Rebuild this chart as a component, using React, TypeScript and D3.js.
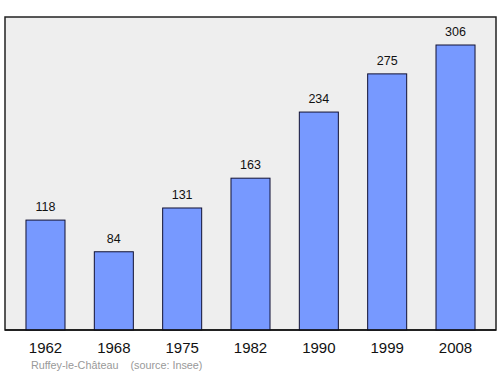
import React from "react";
import * as d3 from "d3";

const years = ["1962", "1968", "1975", "1982", "1990", "1999", "2008"];
const population = [118, 84, 131, 163, 234, 275, 306];
const sourceLabel = "Ruffey-le-Château    (source: Insee)";

const W = 500;
const H = 374;
const left = 5;
const right = 496;
const top = 17;
const bottom = 330;

export default function App() {
  const x = d3
    .scaleBand<string>()
    .domain(years)
    .range([left, right])
    .paddingInner(0.429)
    .paddingOuter(0.307);
  const y = d3.scaleLinear().domain([0, 306]).range([bottom, 45]);
  const font = "'Liberation Sans', Arial, sans-serif";
  return (
    <svg
      width={W}
      height={H}
      style={{ position: "absolute", left: 0, top: 0 }}
      fontFamily={font}
    >
      <rect x={0} y={0} width={W} height={H} fill="#fff" />
      <rect
        x={left}
        y={top}
        width={right - left}
        height={bottom - top}
        fill="#eeeeee"
        stroke="#222"
        strokeWidth={1.5}
      />
      {years.map((yr, i) => {
        const v = population[i];
        const bx = x(yr)!;
        return (
          <g key={yr}>
            <rect
              x={bx}
              y={y(v)}
              width={x.bandwidth()}
              height={bottom - y(v)}
              fill="#7799ff"
              stroke="#111133"
              strokeWidth={1}
            />
            <text
              x={bx + x.bandwidth() / 2}
              y={y(v) - 9}
              textAnchor="middle"
              fontSize={12.5}
              fill="#111"
            >
              {v}
            </text>
            <text
              x={bx + x.bandwidth() / 2}
              y={353}
              textAnchor="middle"
              fontSize={15}
              fill="#111"
            >
              {yr}
            </text>
          </g>
        );
      })}
      <line x1={left} x2={right} y1={bottom} y2={bottom} stroke="#111" strokeWidth={1.5} />
      <text x={31} y={369} fontSize={10.8} fill="#999" style={{ whiteSpace: "pre" }}>
        {sourceLabel}
      </text>
    </svg>
  );
}
